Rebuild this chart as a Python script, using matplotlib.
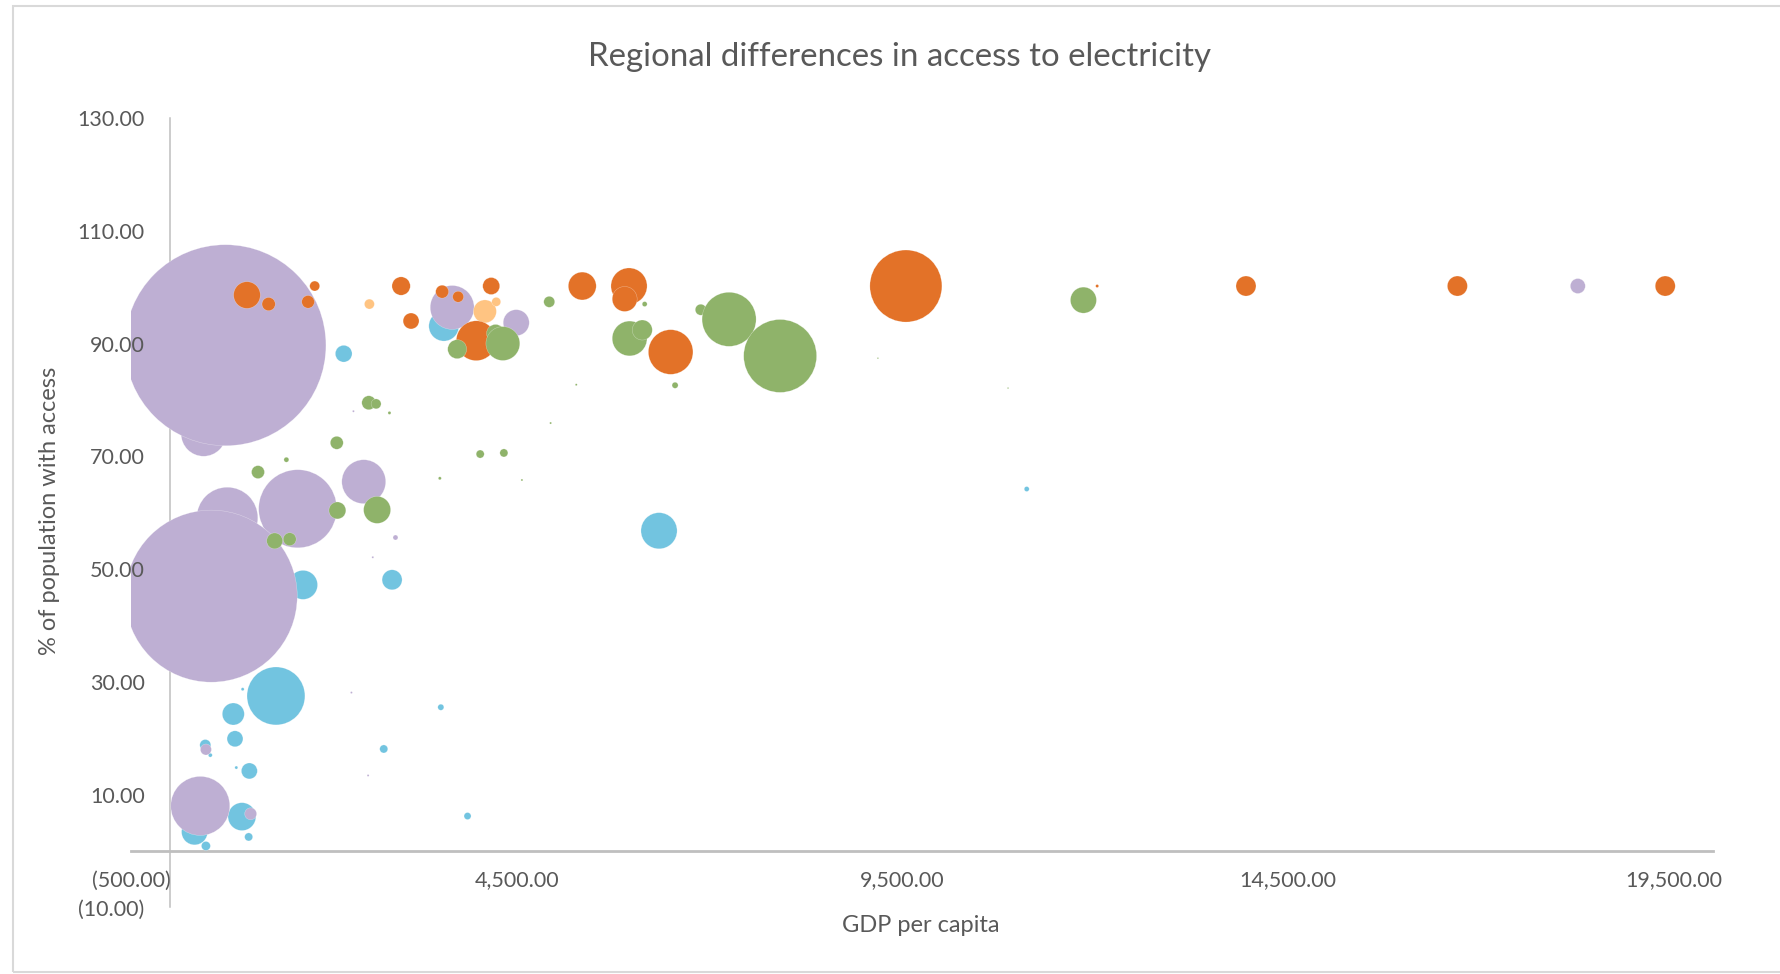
import matplotlib
matplotlib.use("Agg")
import matplotlib.pyplot as plt
import numpy as np
from matplotlib.patches import Rectangle
from matplotlib.ticker import FuncFormatter

plt.rcParams['font.family'] = ['Lato', 'DejaVu Sans']

# bubble data per region: GDP per capita, % with electricity, population (millions)
blue_gdp = [2257, 3555, 1730, 2884, 1379, 826, 848, 947, 463, 528, 865, 1034,
            324, 471, 938, 1025, 2776, 3516, 6344, 3862, 11110]
blue_access = [88.2, 93.1, 47.2, 48.1, 27.5, 24.3, 19.9, 28.7, 18.8, 17.0, 14.8, 14.2,
               3.4, 0.9, 6.1, 2.5, 18.1, 25.5, 56.8, 6.2, 64.2]
blue_pop = [9.0, 29, 27, 12.9, 108, 15.6, 8.2, 0.3, 3.9, 0.5, 0.3, 8.2,
            21.8, 2.6, 25, 2.1, 2.1, 1.2, 42, 1.6, 0.8]

purple_gdp = [441, 724, 3663, 4493, 2517, 748, 1661, 540, 2928, 2634, 2383,
              471, 398, 1051, 2357, 2573, 18253]
purple_access = [74.0, 89.7, 96.4, 93.7, 65.5, 59.1, 60.7, 45.2, 55.6, 52.1, 78.0,
                 18.0, 8.0, 6.6, 28.1, 13.4, 100.2]
purple_pop = [65, 1300, 62, 21.8, 62, 120, 196, 952, 0.8, 0.13, 0.13,
              3.9, 112, 4.6, 0.13, 0.13, 7.2]

lightorange_gdp = [2590, 4087, 4234]
lightorange_access = [97.0, 95.7, 97.4]
lightorange_pop = [3.2, 17, 2.6]

orange_gdp = [1003, 1284, 1795, 1881, 3001, 3130, 3533, 3740, 4169, 3974, 5349,
              5955, 5899, 6495, 9544, 12023, 13952, 16692, 19386]
orange_access = [98.6, 97.0, 97.4, 100.2, 100.2, 94.0, 99.2, 98.3, 100.2, 90.5, 100.2,
                 100.2, 97.9, 88.5, 100.2, 100.2, 100.2, 100.2, 100.2]
orange_pop = [23, 5.7, 5.2, 3.2, 10.8, 8.2, 5.4, 3.9, 9.3, 51, 25,
              42, 20, 64, 167, 0.3, 12.9, 12.9, 12.9]

green_gdp = [2582, 2677, 2850, 2167, 1514, 3728, 4225, 4320, 4921, 6158, 5963, 6127,
             6552, 6885, 7252, 7914, 5271, 4939, 4026, 4333, 9181, 10868, 11845,
             1146, 2175, 2690, 1362, 1557, 3503, 4567]
green_access = [79.5, 79.3, 77.7, 72.4, 69.4, 89.0, 91.8, 90.0, 97.4, 97.0, 90.9, 92.4,
                82.6, 96.0, 94.3, 87.8, 82.7, 75.9, 70.4, 70.6, 87.4, 82.1, 97.7,
                67.2, 60.4, 60.5, 55.0, 55.3, 66.1, 65.8]
green_pop = [6.3, 3.2, 0.3, 5.4, 0.8, 11.6, 10.4, 37, 3.9, 0.8, 39, 12.9,
             1.2, 3.9, 94, 171, 0.13, 0.13, 2.1, 2.1, 0.07, 0.07, 21.8,
             5.4, 9.3, 23.5, 8.2, 5.4, 0.3, 0.13]

series = [
    (blue_gdp, blue_access, blue_pop, '#72C4E0'),
    (purple_gdp, purple_access, purple_pop, '#BEAFD3'),
    (lightorange_gdp, lightorange_access, lightorange_pop, '#FFC482'),
    (orange_gdp, orange_access, orange_pop, '#E37228'),
    (green_gdp, green_access, green_pop, '#8FB36A'),
]

x_ticks = [-500, 4500, 9500, 14500, 19500]
y_ticks = [-10, 10, 30, 50, 70, 90, 110, 130]

W, H = 1780, 974
fig = plt.figure(figsize=(W / 100, H / 100), dpi=100)
ax = fig.add_axes([131 / W, 1 - 907.4 / H, (1712.6 - 131) / W, (907.4 - 118) / H])

# largest bubble diameter ~201 px, area proportional to population
vmax = max(max(s[2]) for s in series)
dmax_pt = 201 * 0.72
for gdp, acc, pop, col in series:
    sizes = dmax_pt ** 2 * np.array(pop) / vmax
    ax.scatter(gdp, acc, s=sizes, c=col, edgecolors=(1, 1, 1, 0.5), linewidths=0.3,
               zorder=1)

ax.set_xlim(-500, 20000)
ax.set_ylim(-10, 130)
ax.set_xticks(x_ticks)
ax.set_yticks(y_ticks)

fmt = FuncFormatter(lambda v, _: f"({abs(v):,.2f})" if v < 0 else f"{v:,.2f}")
ax.xaxis.set_major_formatter(fmt)
ax.yaxis.set_major_formatter(fmt)

ax.spines['top'].set_visible(False)
ax.spines['right'].set_visible(False)
ax.spines['left'].set_position(('data', 0))
ax.spines['bottom'].set_position(('data', 0))
ax.spines['left'].set_color('#BFBFBF')
ax.spines['bottom'].set_color('#BFBFBF')
ax.spines['left'].set_linewidth(1.1)
ax.spines['bottom'].set_linewidth(2.0)
ax.spines['left'].set_zorder(0.5)
ax.spines['bottom'].set_zorder(0.5)

ax.tick_params(axis='both', length=0, labelsize=15.5, labelcolor='#595959')
ax.tick_params(axis='y', pad=18)
ax.tick_params(axis='x', pad=14)

txt = '#595959'
fig.text(899 / W, 1 - 57 / H, 'Regional differences in access to electricity',
         ha='center', va='center', fontsize=23.8, color=txt)
fig.text(920.6 / W, 1 - 926 / H, 'GDP per capita', ha='center', va='center',
         fontsize=17, color=txt)
fig.text(50 / W, 1 - 511 / H, '% of population with access', ha='center', va='center',
         rotation=90, fontsize=17, color=txt)

# chart area border
fig.patches.append(Rectangle((12.5 / W, 2 / H), 1.0, 1 - 8 / H, transform=fig.transFigure,
                             fill=False, edgecolor='#D9D9D9', linewidth=1.5))

fig.savefig('out.png', dpi=100)
